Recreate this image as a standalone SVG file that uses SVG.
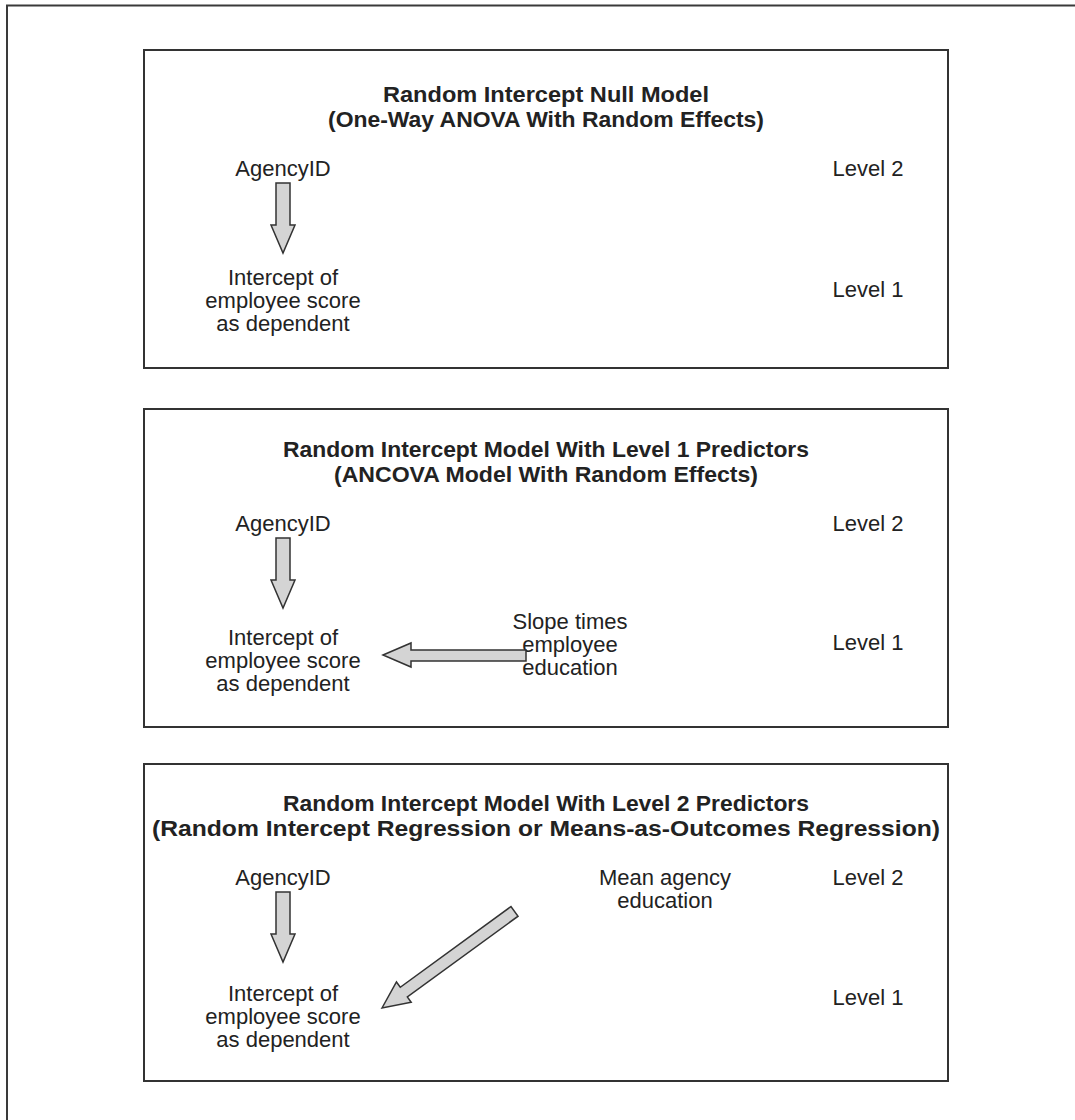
<svg xmlns="http://www.w3.org/2000/svg" width="1075" height="1120" viewBox="0 0 1075 1120">
<style>
.frame{fill:none;stroke:#3a3a3a;stroke-width:2}
.box{fill:#fff;stroke:#333;stroke-width:2}
.title{font-family:"Liberation Sans",Arial,sans-serif;font-weight:bold;font-size:22px;fill:#222;text-anchor:middle}
.lbl{font-family:"Liberation Sans",Arial,sans-serif;font-size:22px;fill:#222;text-anchor:middle}
.arr{fill:#d4d4d4;stroke:#333;stroke-width:1.5;stroke-linejoin:miter}
</style>
<rect width="1075" height="1120" fill="#fff"/>
<path class="frame" d="M7,1120 V5.5 H1075"/>

<g id="model1">
<rect class="box" x="144" y="50" width="804" height="318"/>
<text class="title" x="546" y="102" textLength="326" lengthAdjust="spacingAndGlyphs">Random Intercept Null Model</text>
<text class="title" x="546" y="127" textLength="436" lengthAdjust="spacingAndGlyphs">(One-Way ANOVA With Random Effects)</text>
<text class="lbl" x="283" y="176">AgencyID</text>
<text class="lbl" x="283" y="285">Intercept of</text>
<text class="lbl" x="283" y="308">employee score</text>
<text class="lbl" x="283" y="331">as dependent</text>
<text class="lbl" x="868" y="176">Level 2</text>
<text class="lbl" x="868" y="297">Level 1</text>
</g>

<g id="model2">
<rect class="box" x="144" y="409" width="804" height="318"/>
<text class="title" x="546" y="457" textLength="526" lengthAdjust="spacingAndGlyphs">Random Intercept Model With Level 1 Predictors</text>
<text class="title" x="546" y="482" textLength="424" lengthAdjust="spacingAndGlyphs">(ANCOVA Model With Random Effects)</text>
<text class="lbl" x="283" y="531">AgencyID</text>
<text class="lbl" x="283" y="645">Intercept of</text>
<text class="lbl" x="283" y="668">employee score</text>
<text class="lbl" x="283" y="691">as dependent</text>
<text class="lbl" x="570" y="629">Slope times</text>
<text class="lbl" x="570" y="652">employee</text>
<text class="lbl" x="570" y="675">education</text>
<text class="lbl" x="868" y="531">Level 2</text>
<text class="lbl" x="868" y="650">Level 1</text>
</g>

<g id="model3">
<rect class="box" x="144" y="764" width="804" height="317"/>
<text class="title" x="546" y="811" textLength="526" lengthAdjust="spacingAndGlyphs">Random Intercept Model With Level 2 Predictors</text>
<text class="title" x="546" y="836" textLength="788" lengthAdjust="spacingAndGlyphs">(Random Intercept Regression or Means-as-Outcomes Regression)</text>
<text class="lbl" x="283" y="885">AgencyID</text>
<text class="lbl" x="665" y="885">Mean agency</text>
<text class="lbl" x="665" y="908">education</text>
<text class="lbl" x="283" y="1001">Intercept of</text>
<text class="lbl" x="283" y="1024">employee score</text>
<text class="lbl" x="283" y="1047">as dependent</text>
<text class="lbl" x="868" y="885">Level 2</text>
<text class="lbl" x="868" y="1005">Level 1</text>
</g>

<g id="connectors">
<polygon class="arr" points="276,183 290,183 290,225 295,225 283,253 271,225 276,225"/>
<polygon class="arr" points="276,538 290,538 290,580 295,580 283,608 271,580 276,580"/>
<polygon class="arr" points="276,892 290,892 290,934 295,934 283,962 271,934 276,934"/>
<polygon class="arr" points="383,655 411,643 411,650 526,650 526,661 411,661 411,667"/>
<polygon class="arr" transform="translate(382,1008) rotate(-36.1)" points="0,0 27,-12.5 27,-6 164,-6 164,6 27,6 27,12.5"/>
</g>
</svg>
